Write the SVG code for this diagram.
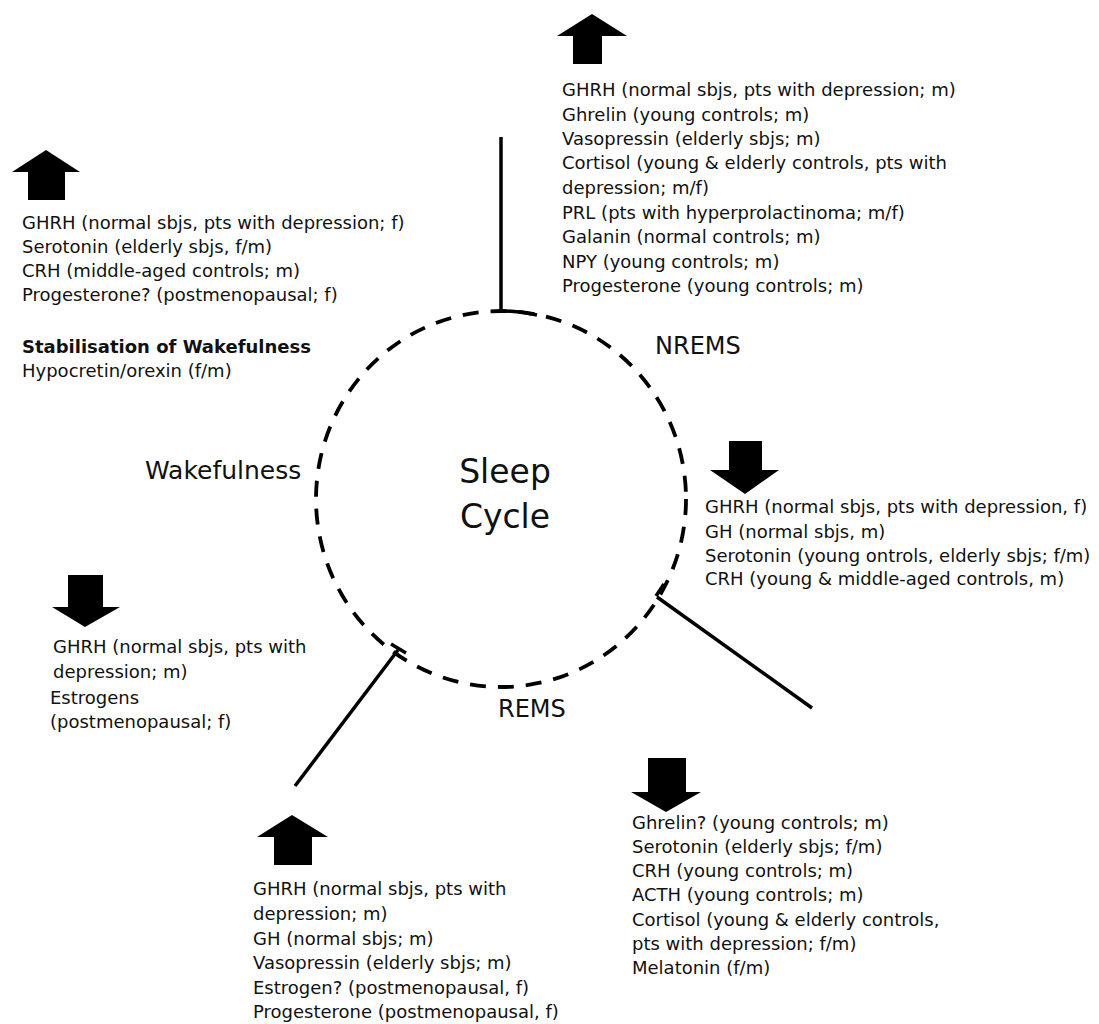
<svg xmlns="http://www.w3.org/2000/svg" width="1099" height="1024" viewBox="0 0 1099 1024">
<defs>
<style>
.t{font-family:"DejaVu Sans","Verdana",sans-serif;font-size:18px;fill:#111}
.b{font-weight:bold}
.lab{font-family:"DejaVu Sans","Verdana",sans-serif;font-size:24px;fill:#111}
.big{font-family:"DejaVu Sans","Verdana",sans-serif;font-size:33px;fill:#111}
.arr{fill:#000}
.ln{stroke:#000;stroke-width:3.5;fill:none;stroke-linecap:butt}
.dash{stroke:#000;stroke-width:3.8;fill:none;stroke-dasharray:16 12}
</style>
</defs>
<rect width="1099" height="1024" fill="#fff"/>

<g id="cycle">
<ellipse class="dash" cx="501" cy="499" rx="185" ry="188"/>
<text class="big" x="505" y="483" text-anchor="middle">Sleep</text>
<text class="big" x="505" y="528" text-anchor="middle">Cycle</text>
</g>

<g id="connectors">
<line class="ln" x1="501" y1="137" x2="501" y2="309"/>
<path class="ln" d="M502 311 Q520 311 537 315"/>
<line class="ln" x1="657" y1="597" x2="812" y2="708"/>
<line class="ln" x1="656" y1="596" x2="664" y2="584"/>
<line class="ln" x1="398" y1="650" x2="295" y2="786"/>
<line class="ln" x1="391" y1="644" x2="406" y2="653"/>
</g>

<g id="label-nrems"><text class="lab" x="655" y="354">NREMS</text></g>
<g id="label-wake"><text class="lab" x="145" y="479" style="font-size:25px">Wakefulness</text></g>
<g id="label-rems"><text class="lab" x="498" y="717">REMS</text></g>

<g id="nrems-up">
<polygon class="arr" points="592,14 627,36 602,36 602,64 573,64 573,36 557,36"/>
<text class="t" x="562" y="96">GHRH (normal sbjs, pts with depression; m)</text>
<text class="t" x="562" y="121">Ghrelin (young controls; m)</text>
<text class="t" x="562" y="145">Vasopressin (elderly sbjs; m)</text>
<text class="t" x="562" y="169">Cortisol (young &amp; elderly controls, pts with</text>
<text class="t" x="562" y="194">depression; m/f)</text>
<text class="t" x="562" y="219">PRL (pts with hyperprolactinoma; m/f)</text>
<text class="t" x="562" y="243">Galanin (normal controls; m)</text>
<text class="t" x="562" y="268">NPY (young controls; m)</text>
<text class="t" x="562" y="292">Progesterone (young controls; m)</text>
</g>

<g id="wake-up">
<polygon class="arr" points="46,150 80,172 65,172 65,200 28,200 28,172 12,172"/>
<text class="t" x="22" y="229">GHRH (normal sbjs, pts with depression; f)</text>
<text class="t" x="22" y="253">Serotonin (elderly sbjs, f/m)</text>
<text class="t" x="22" y="277">CRH (middle-aged controls; m)</text>
<text class="t" x="22" y="301">Progesterone? (postmenopausal; f)</text>
<text class="t b" x="22" y="353">Stabilisation of Wakefulness</text>
<text class="t" x="22" y="377">Hypocretin/orexin (f/m)</text>
</g>

<g id="nrems-down">
<polygon class="arr" points="729,441 762,441 762,470 779,470 745,494 710,470 729,470"/>
<text class="t" x="705" y="513">GHRH (normal sbjs, pts with depression, f)</text>
<text class="t" x="705" y="538">GH (normal sbjs, m)</text>
<text class="t" x="705" y="562">Serotonin (young ontrols, elderly sbjs; f/m)</text>
<text class="t" x="705" y="585">CRH (young &amp; middle-aged controls, m)</text>
</g>

<g id="wake-down">
<polygon class="arr" points="68,575 103,575 103,607 120,607 85,627 52,607 68,607"/>
<text class="t" x="53" y="653">GHRH (normal sbjs, pts with</text>
<text class="t" x="53" y="678">depression; m)</text>
<text class="t" x="50" y="704">Estrogens</text>
<text class="t" x="50" y="728">(postmenopausal; f)</text>
</g>

<g id="rems-up">
<polygon class="arr" points="292,815 328,837 312,837 312,865 274,865 274,837 257,837"/>
<text class="t" x="253" y="895">GHRH (normal sbjs, pts with</text>
<text class="t" x="253" y="920">depression; m)</text>
<text class="t" x="253" y="945">GH (normal sbjs; m)</text>
<text class="t" x="253" y="969">Vasopressin (elderly sbjs; m)</text>
<text class="t" x="253" y="994">Estrogen? (postmenopausal, f)</text>
<text class="t" x="253" y="1018">Progesterone (postmenopausal, f)</text>
</g>

<g id="rems-down">
<polygon class="arr" points="648,758 686,758 686,792 701,792 666,812 631,792 648,792"/>
<text class="t" x="632" y="829">Ghrelin? (young controls; m)</text>
<text class="t" x="632" y="853">Serotonin (elderly sbjs; f/m)</text>
<text class="t" x="632" y="877">CRH (young controls; m)</text>
<text class="t" x="632" y="901">ACTH (young controls; m)</text>
<text class="t" x="632" y="926">Cortisol (young &amp; elderly controls,</text>
<text class="t" x="632" y="950">pts with depression; f/m)</text>
<text class="t" x="632" y="974">Melatonin (f/m)</text>
</g>
</svg>
